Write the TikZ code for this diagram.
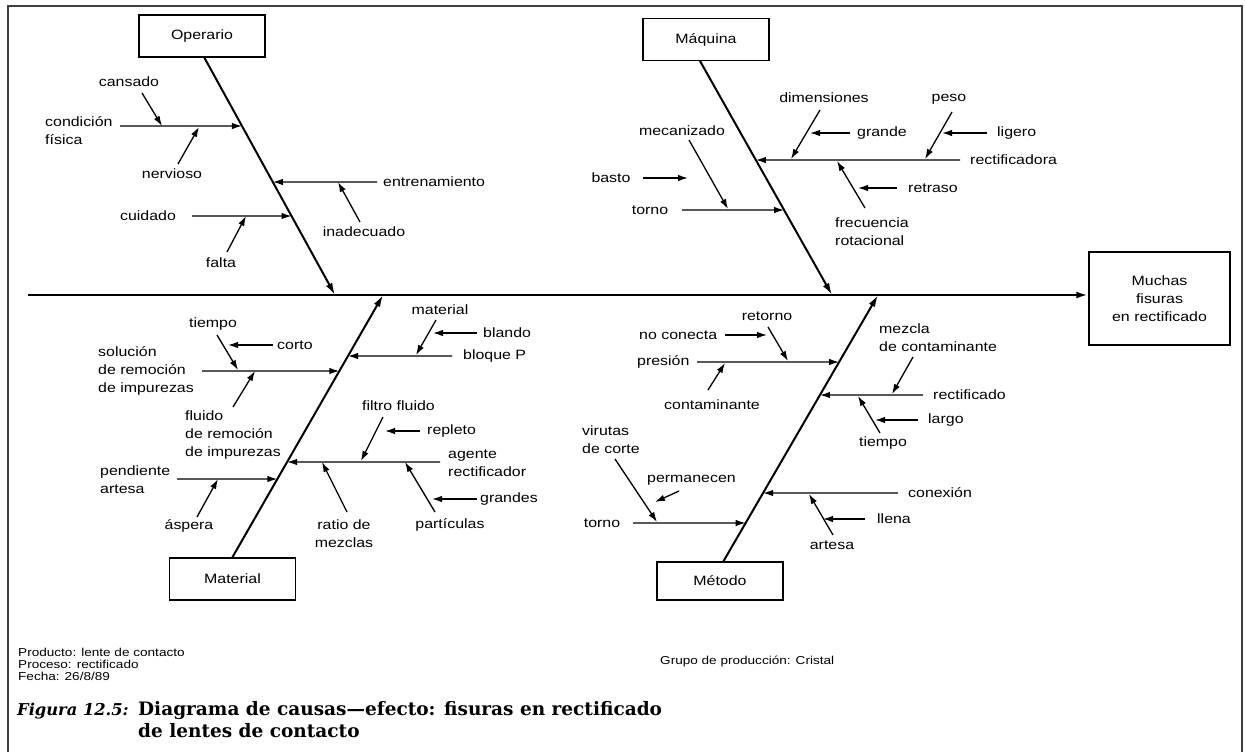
\documentclass[tikz,border=0pt]{standalone}
\usepackage{fontspec}
\setmainfont{Liberation Sans}[FakeStretch=1.18]
\newfontfamily\capserif{DejaVu Serif}
\usetikzlibrary{arrows.meta}

% a cause line that ends with its arrow on a bone: name, bone ends, start x, y
\newcommand\fbbranch[5]{%
  \coordinate (#1s) at (#4,#5);
  \coordinate (#1t) at (intersection of #2--#3 and 0,#5--1,#5);
  \draw[sub] (#1s) -- (#1t);}
% a short arrow between two points: name, start, end
\newcommand\fbtwig[3]{%
  \coordinate (#1s) at #2;
  \coordinate (#1t) at #3;
  \draw[sub] (#1s) -- (#1t);}

\begin{document}
\begin{tikzpicture}[x=1pt,y=-1pt,
  lbl/.style={font=\fontsize{13.5}{18}\selectfont, inner sep=0pt, align=left},
  small/.style={font=\fontsize{11.5}{12.5}\selectfont, inner sep=0pt, anchor=base west},
  catbox/.style={draw, line width=1.5pt, minimum width=126pt, minimum height=42pt,
    inner sep=0pt, font=\fontsize{13.5}{18}\selectfont},
  spine/.style={line width=2.4pt, -{Latex[length=12pt,width=7pt]}},
  bone/.style={line width=2pt, -{Latex[length=12pt,width=7pt]}},
  sub/.style={line width=1.3pt, -{Latex[length=10pt,width=6.5pt]}},
  capfont/.style={font={\capserif\fontsize{18.5}{22}\selectfont\bfseries}, inner sep=0pt, anchor=base west}]
\useasboundingbox (0,0) rectangle (1245,752);
\fill[white] (0,0) rectangle (1245,752);
\draw[line width=1.3pt, black!75] (8,752) -- (8,6) -- (1242,6) -- (1242,752);

% category boxes and effect box
\node[catbox] (op)  at (202,36)   {Operario};
\node[catbox] (maq) at (706,39.5) {Máquina};
\node[catbox] (mat) at (232.5,579) {Material};
\node[catbox, minimum height=38pt] (met) at (720,581) {Método};
\node[draw, line width=1.5pt, minimum width=141pt, minimum height=93pt, inner sep=0pt,
  align=center, font=\fontsize{13.5}{18}\selectfont] (eff) at (1159.5,298.5)
  {Muchas\\fisuras\\en rectificado};

% spine
\coordinate (spL) at (28,295);
\draw[spine] (spL) -- (eff.west |- spL);

% main bones
\coordinate (opA) at (204,57);   \coordinate (opB) at (335,295);
\coordinate (maqA) at (700,61);  \coordinate (maqB) at (832,295);
\coordinate (matA) at (232,558); \coordinate (matB) at (383,295);
\coordinate (metA) at (723,562); \coordinate (metB) at (878,295);
\draw[bone] (opA) -- (opB);
\draw[bone] (maqA) -- (maqB);
\draw[bone] (matA) -- (matB);
\draw[bone] (metA) -- (metB);

% ---- Operario
\fbbranch{oc}{opA}{opB}{120}{126}
\fbbranch{oe}{opA}{opB}{377}{182}
\fbbranch{ou}{opA}{opB}{192}{216}
\fbtwig{oca}{(142,93)}{(162,126)}
\fbtwig{one}{(178,164)}{(199,127)}
\fbtwig{oin}{(360,222)}{(338,182)}
\fbtwig{ofa}{(227,252)}{(246,216)}
\node[lbl] (l-cansado) at (129,82) {cansado};
\node[lbl, anchor=west] (l-condicion) at (45,130.5) {condición\\física};
\node[lbl] (l-nervioso) at (172,174) {nervioso};
\node[lbl, anchor=west] (l-entren) at (383,182) {entrenamiento};
\node[lbl] (l-inadec) at (364,232) {inadecuado};
\node[lbl] (l-cuidado) at (148,216) {cuidado};
\node[lbl] (l-falta) at (221,263) {falta};

% ---- Máquina
\fbbranch{mt}{maqA}{maqB}{682}{210}
\fbbranch{mr}{maqA}{maqB}{960}{160}
\fbtwig{mme}{(689,140)}{(728,209)}
\fbtwig{mba}{(643,178)}{(688,178)}
\fbtwig{mdi}{(820,110)}{(791,159)}
\fbtwig{mgr}{(850,133)}{(810,133)}
\fbtwig{mpe}{(952,112)}{(925,159)}
\fbtwig{mli}{(987,133)}{(942,133)}
\fbtwig{mfr}{(865,208)}{(837,161)}
\fbtwig{mre}{(897,188)}{(858,188)}
\node[lbl] (l-mecan) at (682,131) {mecanizado};
\node[lbl] (l-basto) at (611,178) {basto};
\node[lbl] (l-torno1) at (650,210) {torno};
\node[lbl, anchor=west] (l-rectif) at (970,160) {rectificadora};
\node[lbl] (l-dimen) at (824,98) {dimensiones};
\node[lbl, anchor=west] (l-grande) at (857,133) {grande};
\node[lbl] (l-peso) at (949,99) {peso};
\node[lbl, anchor=west] (l-ligero) at (997,133) {ligero};
\node[lbl, anchor=west] (l-frec) at (835,232) {frecuencia\\rotacional};
\node[lbl, anchor=west] (l-retraso) at (908,188) {retraso};

% ---- Material
\fbbranch{ts}{matA}{matB}{202}{371}
\fbbranch{tp}{matA}{matB}{177}{479}
\fbbranch{tb}{matA}{matB}{452}{356}
\fbbranch{ta}{matA}{matB}{440}{462}
\fbtwig{tti}{(217,335)}{(238,370)}
\fbtwig{tco}{(273,345)}{(228,345)}
\fbtwig{tfl}{(233,407)}{(255,371)}
\fbtwig{tas}{(197,517)}{(218,479)}
\fbtwig{tma}{(436,320)}{(416,355)}
\fbtwig{tbl}{(477,333)}{(433,333)}
\fbtwig{tfi}{(383,417)}{(361,461)}
\fbtwig{tre}{(420,431)}{(385,431)}
\fbtwig{tra}{(347,512)}{(322,462)}
\fbtwig{tpa}{(435,512)}{(405,462)}
\fbtwig{tgr}{(477,499)}{(432,499)}
\node[lbl, anchor=west] (l-solucion) at (98,371) {solución\\de remoción\\de impurezas};
\node[lbl] (l-tiempo1) at (213,324) {tiempo};
\node[lbl, anchor=west] (l-corto) at (277,345) {corto};
\node[lbl, anchor=west] (l-fluido) at (185,435) {fluido\\de remoción\\de impurezas};
\node[lbl, anchor=west] (l-pendiente) at (100,480) {pendiente\\artesa};
\node[lbl] (l-aspera) at (189,526) {áspera};
\node[lbl] (l-material) at (440,310) {material};
\node[lbl, anchor=west] (l-blando) at (483,333) {blando};
\node[lbl, anchor=west] (l-bloque) at (463,356) {bloque P};
\node[lbl, anchor=west] (l-filtro) at (362,406) {filtro fluido};
\node[lbl, anchor=west] (l-repleto) at (427,431) {repleto};
\node[lbl, anchor=west] (l-agente) at (448,463.5) {agente\\rectificador};
\node[lbl, align=center] (l-ratio) at (344,534) {ratio de\\mezclas};
\node[lbl] (l-particulas) at (450,525) {partículas};
\node[lbl, anchor=west] (l-grandes) at (480,499) {grandes};

% ---- Método
\fbbranch{ep}{metA}{metB}{697}{362}
\fbbranch{et}{metA}{metB}{633}{523}
\fbbranch{er}{metA}{metB}{923}{395}
\fbbranch{ec}{metA}{metB}{898}{493}
\fbtwig{eno}{(725,335)}{(767,335)}
\fbtwig{ere}{(768,327)}{(788,361)}
\fbtwig{eco}{(708,390)}{(725,363)}
\fbtwig{emz}{(913,357)}{(892,394)}
\fbtwig{ela}{(918,420)}{(875,420)}
\fbtwig{eti}{(880,433)}{(858,396)}
\fbtwig{evi}{(615,459)}{(657,522)}
\fbtwig{epe}{(679,491)}{(655,502)}
\fbtwig{ell}{(865,519)}{(823,519)}
\fbtwig{ear}{(833,535)}{(809,494)}
\node[lbl, anchor=west] (l-noconecta) at (639,335) {no conecta};
\node[lbl] (l-retorno) at (767,316) {retorno};
\node[lbl, anchor=west] (l-presion) at (637,362) {presión};
\node[lbl] (l-contam) at (712,405) {contaminante};
\node[lbl, anchor=west] (l-mezcla) at (879,337.5) {mezcla\\de contaminante};
\node[lbl, anchor=west] (l-rectificado) at (933,395) {rectificado};
\node[lbl, anchor=west] (l-largo) at (928,420) {largo};
\node[lbl] (l-tiempo2) at (883,443) {tiempo};
\node[lbl, anchor=west] (l-virutas) at (582,439.5) {virutas\\de corte};
\node[lbl, anchor=west] (l-perman) at (647,480) {permanecen};
\node[lbl] (l-torno2) at (602,523) {torno};
\node[lbl, anchor=west] (l-conexion) at (908,493) {conexión};
\node[lbl, anchor=west] (l-llena) at (877,519) {llena};
\node[lbl] (l-artesa) at (832,545) {artesa};

% ---- footer notes and caption
\node[small] (n-producto) at (18,656) {Producto: lente de contacto};
\node[small] (n-proceso)  at (18,668) {Proceso: rectificado};
\node[small] (n-fecha)    at (18,680) {Fecha: 26/8/89};
\node[small] (n-grupo)    at (660,664) {Grupo de producción: Cristal};
\node[inner sep=0pt, anchor=base west,
  font={\capserif\fontsize{16.3}{22}\selectfont\bfseries\itshape}]
  (figlabel) at (17,715) {Figura 12.5:};
\node[capfont] (figtitle1) at (138,715) {Diagrama de causas—efecto: fisuras en rectificado};
\node[capfont] (figtitle2) at (138,737) {de lentes de contacto};
\end{tikzpicture}
\end{document}
